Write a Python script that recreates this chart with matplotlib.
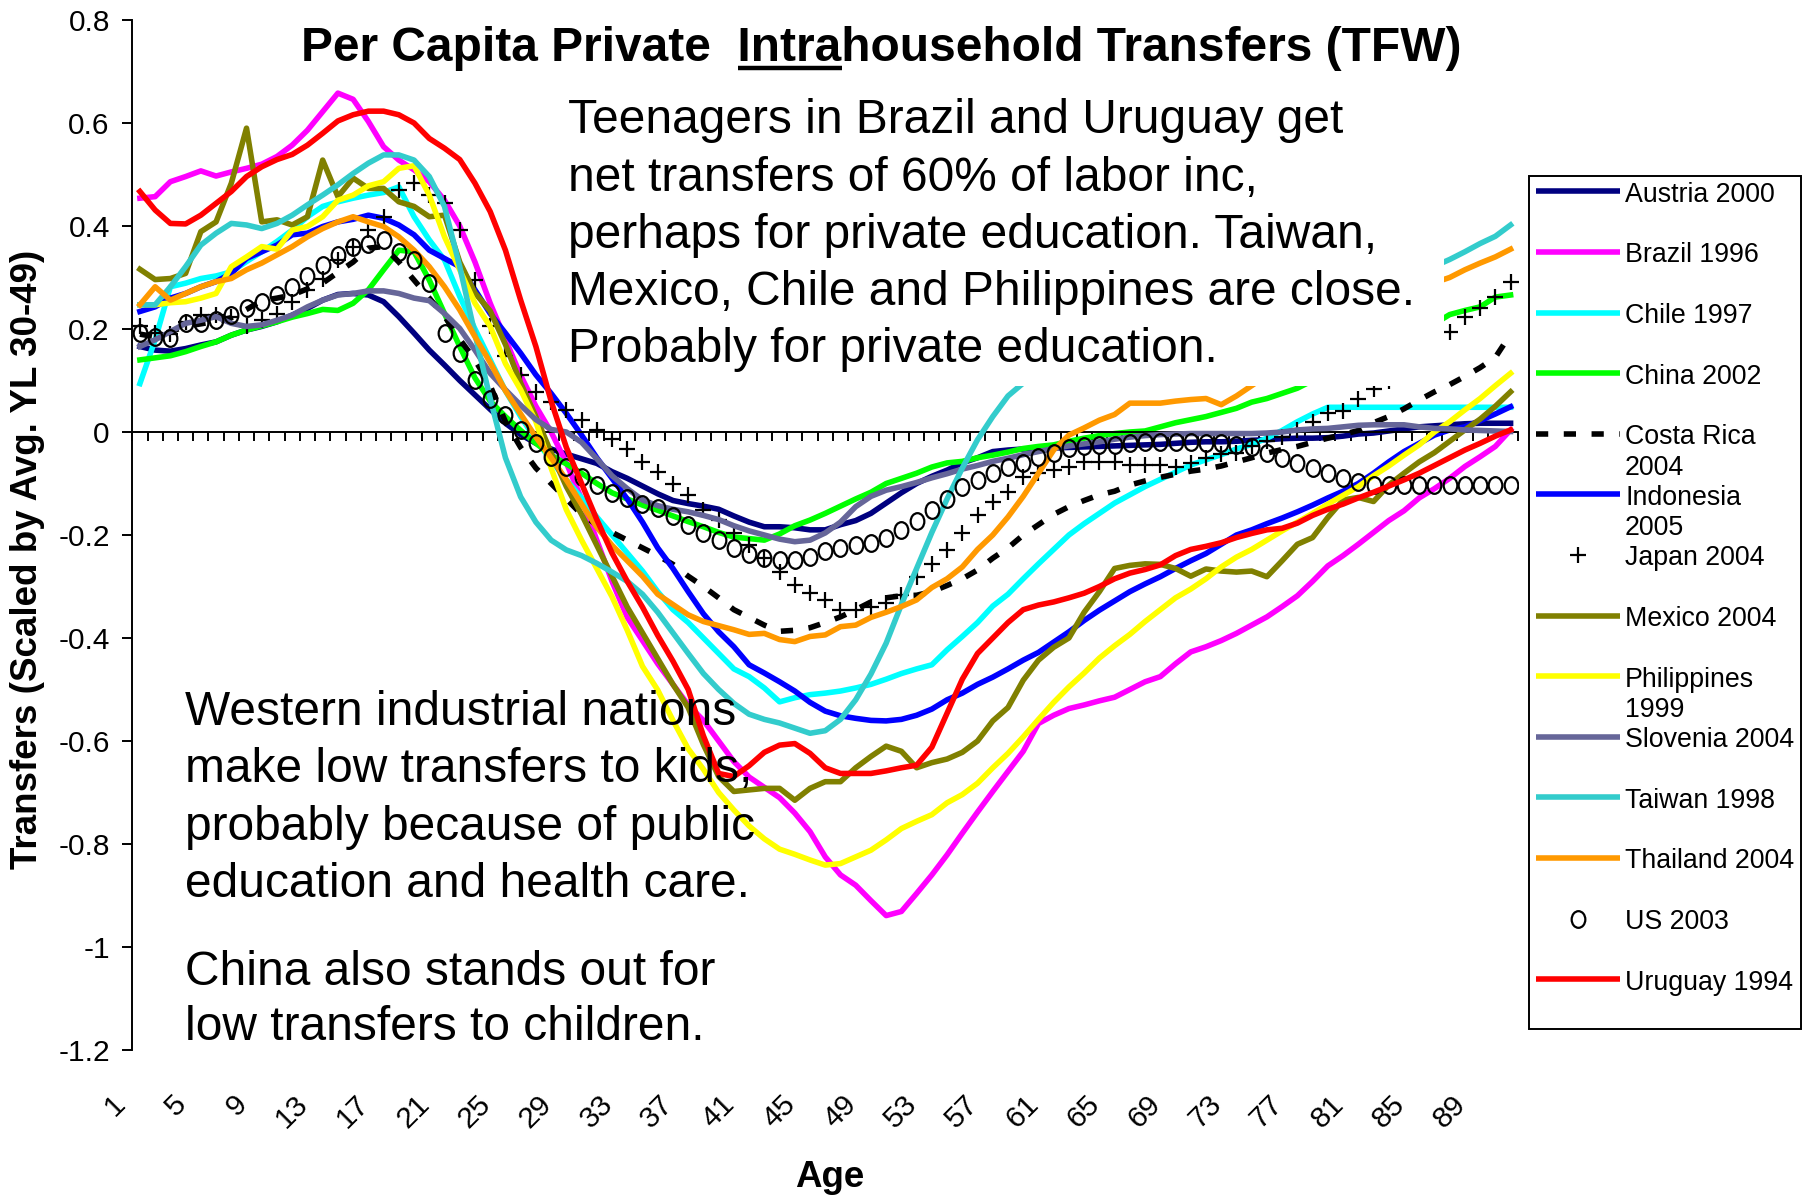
import numpy as np
import matplotlib
matplotlib.use('Agg')
import matplotlib.pyplot as plt
from matplotlib.lines import Line2D
from matplotlib.patches import Rectangle
from matplotlib.path import Path
from matplotlib.transforms import Affine2D, ScaledTranslation, blended_transform_factory

plt.rcParams['font.family'] = ['Liberation Sans', 'DejaVu Sans']

W, H, DPI = 1807, 1197, 100

ages = np.arange(1, 92)
tick_ages = np.arange(1, 92, 4)
yticks = [-1.2, -1.0, -0.8, -0.6, -0.4, -0.2, 0.0, 0.2, 0.4, 0.6, 0.8]
ytick_labels = ['-1.2', '-1', '-0.8', '-0.6', '-0.4', '-0.2', '0', '0.2', '0.4', '0.6', '0.8']

# transfers by age 1..91
austria = [
    .166, .159, .157, .162, .169, .175, .188, .198, .205, .214,
    .227, .240, .256, .267, .269, .266, .253, .224, .192, .159,
    .130, .100, .072, .044, .017, -.005, -.022, -.033, -.043, -.052,
    -.061, -.077, -.090, -.105, -.120, -.133, -.139, -.144, -.150, -.163,
    -.175, -.184, -.184, -.186, -.190, -.190, -.180, -.172, -.158, -.138,
    -.118, -.100, -.086, -.074, -.060, -.050, -.038, -.035, -.033, -.032,
    -.031, -.030, -.029, -.028, -.027, -.026, -.025, -.024, -.022, -.020,
    -.019, -.019, -.018, -.016, -.015, -.013, -.012, -.012, -.011, -.008,
    -.004, -.002, .002, .006, .010, .012, .014, .016, .017, .017, .017]
brazil = [
    .454, .457, .486, .496, .507, .497, .505, .512, .520, .535,
    .557, .586, .622, .658, .646, .603, .554, .528, .509, .486,
    .450, .400, .330, .250, .180, .110, .050, .000, -.060, -.130,
    -.210, -.290, -.360, -.405, -.450, -.490, -.530, -.560, -.600, -.640,
    -.670, -.690, -.710, -.740, -.776, -.825, -.860, -.880, -.910, -.939,
    -.931, -.896, -.860, -.821, -.779, -.738, -.698, -.659, -.620, -.566,
    -.550, -.537, -.530, -.522, -.515, -.500, -.485, -.475, -.450, -.427,
    -.417, -.405, -.391, -.375, -.359, -.339, -.318, -.290, -.260, -.240,
    -.218, -.195, -.172, -.153, -.128, -.110, -.090, -.067, -.048, -.028, .004]
chile = [
    .094, .179, .282, .289, .298, .303, .311, .331, .350, .370,
    .392, .418, .438, .447, .454, .460, .465, .476, .418, .373,
    .334, .263, .200, .140, .080, .030, -.015, -.055, -.093, -.128,
    -.165, -.200, -.235, -.270, -.310, -.345, -.370, -.400, -.430, -.460,
    -.475, -.497, -.524, -.516, -.510, -.507, -.503, -.497, -.490, -.480,
    -.469, -.460, -.452, -.423, -.397, -.370, -.338, -.315, -.285, -.256,
    -.228, -.200, -.178, -.158, -.138, -.122, -.106, -.092, -.078, -.064,
    -.054, -.044, -.033, -.024, -.012, .003, .020, .035, .048, .048,
    .048, .048, .048, .048, .048, .048, .048, .048, .048, .048, .048]
china = [
    .140, .144, .148, .156, .166, .175, .188, .198, .206, .214,
    .223, .230, .238, .236, .250, .276, .315, .353, .350, .295,
    .230, .166, .105, .060, .030, .003, -.022, -.045, -.062, -.080,
    -.100, -.118, -.130, -.142, -.152, -.163, -.174, -.184, -.195, -.204,
    -.207, -.210, -.198, -.182, -.171, -.158, -.144, -.130, -.117, -.100,
    -.090, -.080, -.068, -.060, -.057, -.050, -.045, -.039, -.032, -.028,
    -.025, -.018, -.012, -.007, -.003, .000, .002, .010, .018, .024,
    .030, .038, .046, .058, .065, .075, .085, .100, .110, .120,
    .130, .145, .160, .175, .190, .210, .228, .236, .243, .262, .266]
costa_rica = [
    .190, .185, .195, .205, .210, .215, .222, .238, .255, .260,
    .266, .278, .289, .310, .330, .357, .360, .330, .295, .260,
    .225, .180, .140, .090, .020, -.030, -.070, -.100, -.130, -.160,
    -.180, -.195, -.210, -.225, -.240, -.257, -.280, -.300, -.322, -.345,
    -.360, -.375, -.387, -.385, -.380, -.370, -.359, -.345, -.330, -.322,
    -.318, -.317, -.310, -.298, -.285, -.268, -.245, -.225, -.200, -.180,
    -.160, -.145, -.133, -.122, -.115, -.103, -.095, -.088, -.082, -.076,
    -.072, -.066, -.058, -.050, -.041, -.034, -.028, -.020, -.012, -.005,
    .003, .018, .030, .045, .062, .078, .092, .108, .125, .145, .190]
indonesia = [
    .234, .243, .260, .269, .282, .292, .308, .337, .350, .363,
    .383, .386, .399, .408, .413, .421, .415, .402, .383, .353,
    .337, .321, .276, .230, .192, .153, .111, .075, .036, -.006,
    -.050, -.090, -.130, -.175, -.225, -.265, -.310, -.353, -.388, -.417,
    -.452, -.468, -.485, -.503, -.525, -.542, -.551, -.556, -.560, -.561,
    -.558, -.550, -.538, -.520, -.507, -.490, -.476, -.460, -.443, -.428,
    -.408, -.388, -.366, -.346, -.328, -.310, -.295, -.281, -.265, -.250,
    -.236, -.218, -.200, -.190, -.178, -.167, -.155, -.142, -.128, -.115,
    -.100, -.080, -.058, -.038, -.022, -.006, .004, .010, .022, .035, .049]
japan = [
    .205, .192, .190, .214, .227, .227, .224, .205, .217, .230,
    .253, .276, .298, .334, .360, .392, .418, .470, .483, .460,
    .444, .392, .295, .205, .148, .111, .077, .059, .043, .023,
    .004, -.014, -.033, -.058, -.077, -.100, -.122, -.151, -.171, -.197,
    -.220, -.245, -.271, -.297, -.313, -.326, -.346, -.346, -.339, -.333,
    -.317, -.281, -.257, -.230, -.197, -.161, -.135, -.116, -.087, -.080,
    -.074, -.067, -.058, -.058, -.058, -.064, -.064, -.064, -.067, -.061,
    -.051, -.043, -.040, -.027, -.018, -.009, .003, .020, .036, .040,
    .065, .084, .100, .120, .145, .170, .195, .224, .240, .263, .292]
mexico = [
    .316, .296, .298, .308, .389, .408, .483, .590, .408, .412,
    .402, .418, .528, .457, .493, .473, .473, .447, .438, .418,
    .421, .330, .270, .235, .170, .095, .030, -.040, -.106, -.160,
    -.220, -.280, -.340, -.390, -.440, -.490, -.535, -.607, -.669, -.698,
    -.695, -.692, -.692, -.715, -.692, -.679, -.679, -.652, -.630, -.610,
    -.620, -.652, -.642, -.635, -.622, -.600, -.561, -.535, -.482, -.443,
    -.418, -.400, -.350, -.310, -.265, -.259, -.256, -.257, -.265, -.280,
    -.266, -.270, -.272, -.270, -.281, -.250, -.218, -.205, -.166, -.132,
    -.127, -.135, -.103, -.080, -.058, -.040, -.018, .004, .025, .050, .078]
philippines = [
    .247, .247, .251, .253, .260, .269, .321, .340, .360, .355,
    .392, .399, .418, .450, .460, .478, .486, .512, .517, .460,
    .379, .315, .250, .205, .133, .082, .020, -.070, -.151, -.210,
    -.265, -.320, -.385, -.455, -.501, -.560, -.615, -.655, -.700, -.734,
    -.765, -.790, -.810, -.820, -.831, -.841, -.838, -.825, -.812, -.792,
    -.770, -.756, -.743, -.720, -.704, -.682, -.652, -.624, -.592, -.558,
    -.525, -.495, -.468, -.439, -.415, -.393, -.368, -.345, -.322, -.305,
    -.285, -.262, -.243, -.228, -.210, -.192, -.175, -.158, -.140, -.123,
    -.106, -.085, -.066, -.045, -.025, .000, .020, .043, .065, .090, .114]
slovenia = [
    .166, .179, .195, .211, .217, .224, .211, .205, .208, .217,
    .227, .243, .256, .266, .269, .274, .274, .269, .260, .255,
    .230, .201, .159, .114, .082, .052, .024, .005, .000, -.020,
    -.052, -.085, -.110, -.132, -.143, -.150, -.155, -.162, -.170, -.182,
    -.192, -.200, -.208, -.213, -.210, -.196, -.175, -.145, -.125, -.113,
    -.106, -.098, -.089, -.081, -.072, -.065, -.057, -.051, -.044, -.038,
    -.032, -.027, -.023, -.019, -.014, -.010, -.007, -.005, -.004, -.003,
    -.003, -.003, -.003, -.003, -.002, .000, .004, .006, .007, .010,
    .013, .014, .014, .014, .010, .007, .006, .004, .003, .002, .001]
taiwan = [
    .247, .247, .282, .321, .363, .386, .405, .402, .395, .405,
    .421, .441, .460, .480, .502, .522, .538, .538, .528, .496,
    .438, .321, .190, .065, -.050, -.126, -.175, -.210, -.229, -.240,
    -.255, -.272, -.290, -.315, -.350, -.390, -.430, -.469, -.500, -.527,
    -.548, -.558, -.565, -.575, -.585, -.580, -.558, -.520, -.470, -.410,
    -.335, -.265, -.195, -.130, -.070, -.015, .030, .070, .095, .130,
    .170, .200, .220, .235, .245, .250, .255, .260, .262, .265,
    .268, .270, .272, .275, .278, .280, .283, .286, .290, .293,
    .297, .300, .305, .310, .315, .322, .335, .350, .366, .380, .402]
thailand = [
    .247, .282, .256, .269, .282, .292, .298, .315, .328, .344,
    .360, .379, .395, .408, .418, .408, .399, .379, .353, .321,
    .282, .237, .185, .135, .080, .035, -.010, -.050, -.093, -.140,
    -.185, -.220, -.250, -.280, -.315, -.335, -.355, -.368, -.376, -.384,
    -.393, -.391, -.403, -.407, -.397, -.394, -.378, -.375, -.360, -.350,
    -.339, -.326, -.302, -.285, -.262, -.228, -.200, -.165, -.125, -.080,
    -.035, -.006, .008, .023, .034, .056, .056, .056, .060, .063,
    .065, .053, .070, .090, .110, .130, .150, .170, .185, .200,
    .215, .230, .245, .260, .275, .290, .300, .315, .328, .340, .355]
us = [
    .192, .185, .182, .211, .211, .217, .227, .240, .253, .266,
    .282, .302, .324, .344, .360, .366, .373, .350, .334, .289,
    .192, .153, .101, .065, .033, .004, -.022, -.048, -.067, -.087,
    -.103, -.119, -.129, -.139, -.148, -.164, -.181, -.197, -.210, -.226,
    -.236, -.245, -.249, -.249, -.242, -.232, -.226, -.219, -.216, -.206,
    -.190, -.172, -.151, -.130, -.107, -.093, -.080, -.067, -.061, -.048,
    -.041, -.032, -.028, -.025, -.025, -.022, -.019, -.019, -.019, -.019,
    -.022, -.022, -.025, -.030, -.041, -.051, -.060, -.070, -.080, -.090,
    -.098, -.103, -.103, -.103, -.103, -.103, -.103, -.103, -.103, -.103, -.103]
uruguay = [
    .467, .431, .405, .404, .421, .444, .467, .496, .515, .529,
    .539, .557, .580, .604, .616, .623, .623, .616, .600, .570,
    .551, .529, .483, .428, .353, .256, .166, .060, -.030, -.100,
    -.170, -.235, -.290, -.340, -.395, -.445, -.500, -.590, -.663, -.669,
    -.648, -.622, -.608, -.605, -.624, -.652, -.663, -.663, -.663, -.658,
    -.652, -.647, -.612, -.546, -.480, -.430, -.400, -.370, -.345, -.336,
    -.330, -.322, -.313, -.300, -.285, -.274, -.267, -.258, -.240, -.228,
    -.222, -.215, -.205, -.197, -.190, -.187, -.177, -.162, -.150, -.140,
    -.128, -.117, -.105, -.093, -.080, -.065, -.050, -.035, -.022, -.008, .004]

names = ['Austria 2000', 'Brazil 1996', 'Chile 1997', 'China 2002', 'Costa Rica\n2004',
         'Indonesia\n2005', 'Japan 2004', 'Mexico 2004', 'Philippines\n1999', 'Slovenia 2004',
         'Taiwan 1998', 'Thailand 2004', 'US 2003', 'Uruguay 1994']
values = [austria, brazil, chile, china, costa_rica, indonesia, japan, mexico,
          philippines, slovenia, taiwan, thailand, us, uruguay]

LW = 4.0
oval = Path.unit_circle().transformed(Affine2D().scale(0.82, 1.0))
styles = [
    dict(color='#000080', linewidth=LW),
    dict(color='#FF00FF', linewidth=LW),
    dict(color='#00FFFF', linewidth=LW),
    dict(color='#00FF00', linewidth=LW),
    dict(color='black', linewidth=LW, linestyle=(0, (2.2, 2.8))),
    dict(color='#0000FF', linewidth=LW),
    dict(color='black', linestyle='none', marker='+', markersize=12, markeredgewidth=1.6),
    dict(color='#808000', linewidth=LW),
    dict(color='#FFFF00', linewidth=LW),
    dict(color='#666699', linewidth=LW),
    dict(color='#33CCCC', linewidth=LW),
    dict(color='#FF9900', linewidth=LW),
    dict(color='black', linestyle='none', marker=oval, markersize=12,
         markerfacecolor='none', markeredgewidth=1.6),
    dict(color='#FF0000', linewidth=LW),
]


def fx(px):
    return px / W


def fy(py):
    return 1 - py / H


fig = plt.figure(figsize=(W / DPI, H / DPI), dpi=DPI)
ax = fig.add_axes([fx(132.3), fy(1050), (1518.2 - 132.3) / W, (1050 - 20) / H])

for i, (vals, st) in enumerate(zip(values, styles)):
    ax.plot(ages, vals, zorder=2 + 0.1 * i, solid_joinstyle='round', **st)

ax.set_xlim(0.5, 91.5)
ax.set_ylim(-1.2, 0.8)
for side in ('top', 'right'):
    ax.spines[side].set_visible(False)
ax.spines['left'].set_linewidth(1.4)
ax.spines['bottom'].set_position(('data', 0))
ax.spines['bottom'].set_linewidth(1.4)
ax.set_xticks(np.arange(0.5, 92, 1.0))
ax.tick_params(axis='x', labelbottom=False, direction='out', length=6.7, width=1.4)
ax.set_yticks(yticks)
ax.set_yticklabels(ytick_labels)
ax.tick_params(axis='y', direction='out', length=7.2, width=1.4, pad=9, labelsize=21.5)

# age labels along the bottom edge, rotated like the original
lab_trans = blended_transform_factory(ax.transData, ax.transAxes) + \
    ScaledTranslation(-19 / DPI, -50 / DPI, fig.dpi_scale_trans)
for a in tick_ages:
    ax.text(a, 0, str(a), transform=lab_trans, rotation=45, ha='right', va='center',
            rotation_mode='anchor', fontsize=21.5, clip_on=False)

# axis titles
fig.text(fx(28), fy(559), 'Transfers (Scaled by Avg. YL 30-49)', rotation=90,
         ha='center', va='center', fontsize=26.5, fontweight='bold')
fig.text(fx(829.7), fy(1187), 'Age', ha='center', va='baseline', fontsize=26.5, fontweight='bold')

# title with underlined "Intra"
title_str = 'Per Capita Private  Intrahousehold Transfers (TFW)'
title = fig.text(fx(881.5), fy(61), title_str, ha='center', va='baseline',
                 fontsize=34.5, fontweight='bold')
r = fig.canvas.get_renderer()
bb = title.get_window_extent(renderer=r)
tmp = fig.text(0, 0, 'Per Capita Private  Intra', fontsize=34.5, fontweight='bold')
w_pre = tmp.get_window_extent(renderer=r).width
tmp.set_text('Intra')
w_intra = tmp.get_window_extent(renderer=r).width
tmp.remove()
x_end = bb.x0 + w_pre
fig.add_artist(Line2D([x_end - w_intra, x_end], [fy(67.5) * H, fy(67.5) * H],
                      color='black', linewidth=3.2, solid_capstyle='butt', transform=None))

# annotation at the top hides the lines behind it
fig.add_artist(Rectangle((fx(558), fy(386)), (1444 - 558) / W, (386 - 88) / H,
                         transform=fig.transFigure, facecolor='white', edgecolor='none', zorder=2.5))
note_top = ['Teenagers in Brazil and Uruguay get',
            'net transfers of 60% of labor inc,',
            'perhaps for private education. Taiwan,',
            'Mexico, Chile and Philippines are close.',
            'Probably for private education.']
for k, line in enumerate(note_top):
    fig.text(fx(568), fy(133.3 + 57.3 * k), line, ha='left', va='baseline', fontsize=34.5, zorder=3)

note_low = ['Western industrial nations',
            'make low transfers to kids,',
            'probably because of public',
            'education and health care.']
for k, line in enumerate(note_low):
    fig.text(fx(185), fy(725 + 57.3 * k), line, ha='left', va='baseline', fontsize=34.5, zorder=3)
note_china = ['China also stands out for', 'low transfers to children.']
for k, line in enumerate(note_china):
    fig.text(fx(185), fy(985 + 55.5 * k), line, ha='left', va='baseline', fontsize=34.5, zorder=3)

# legend box drawn by hand to keep the fixed row pitch of the original
fig.add_artist(Rectangle((fx(1529), fy(1029)), (1801 - 1529) / W, (1029 - 176) / H,
                         transform=fig.transFigure, facecolor='white', edgecolor='black',
                         linewidth=1.4, zorder=2.5))
row0, drow = 191.3, 60.6
for i, (name, st) in enumerate(zip(names, styles)):
    yc = row0 + i * drow
    if st.get('linestyle') == 'none':
        h = Line2D([fx(1578)], [fy(yc)], transform=fig.transFigure, zorder=3, **st)
    else:
        h = Line2D([fx(1536), fx(1620)], [fy(yc), fy(yc)], transform=fig.transFigure,
                   zorder=3, solid_capstyle='butt', **st)
    fig.add_artist(h)
    for k, part in enumerate(name.split('\n')):
        fig.text(fx(1625), fy(yc + 3.5 + 30.5 * k), part, ha='left', va='center',
                 fontsize=19.3, zorder=3)

fig.savefig('out.png', dpi=DPI, facecolor='white')
